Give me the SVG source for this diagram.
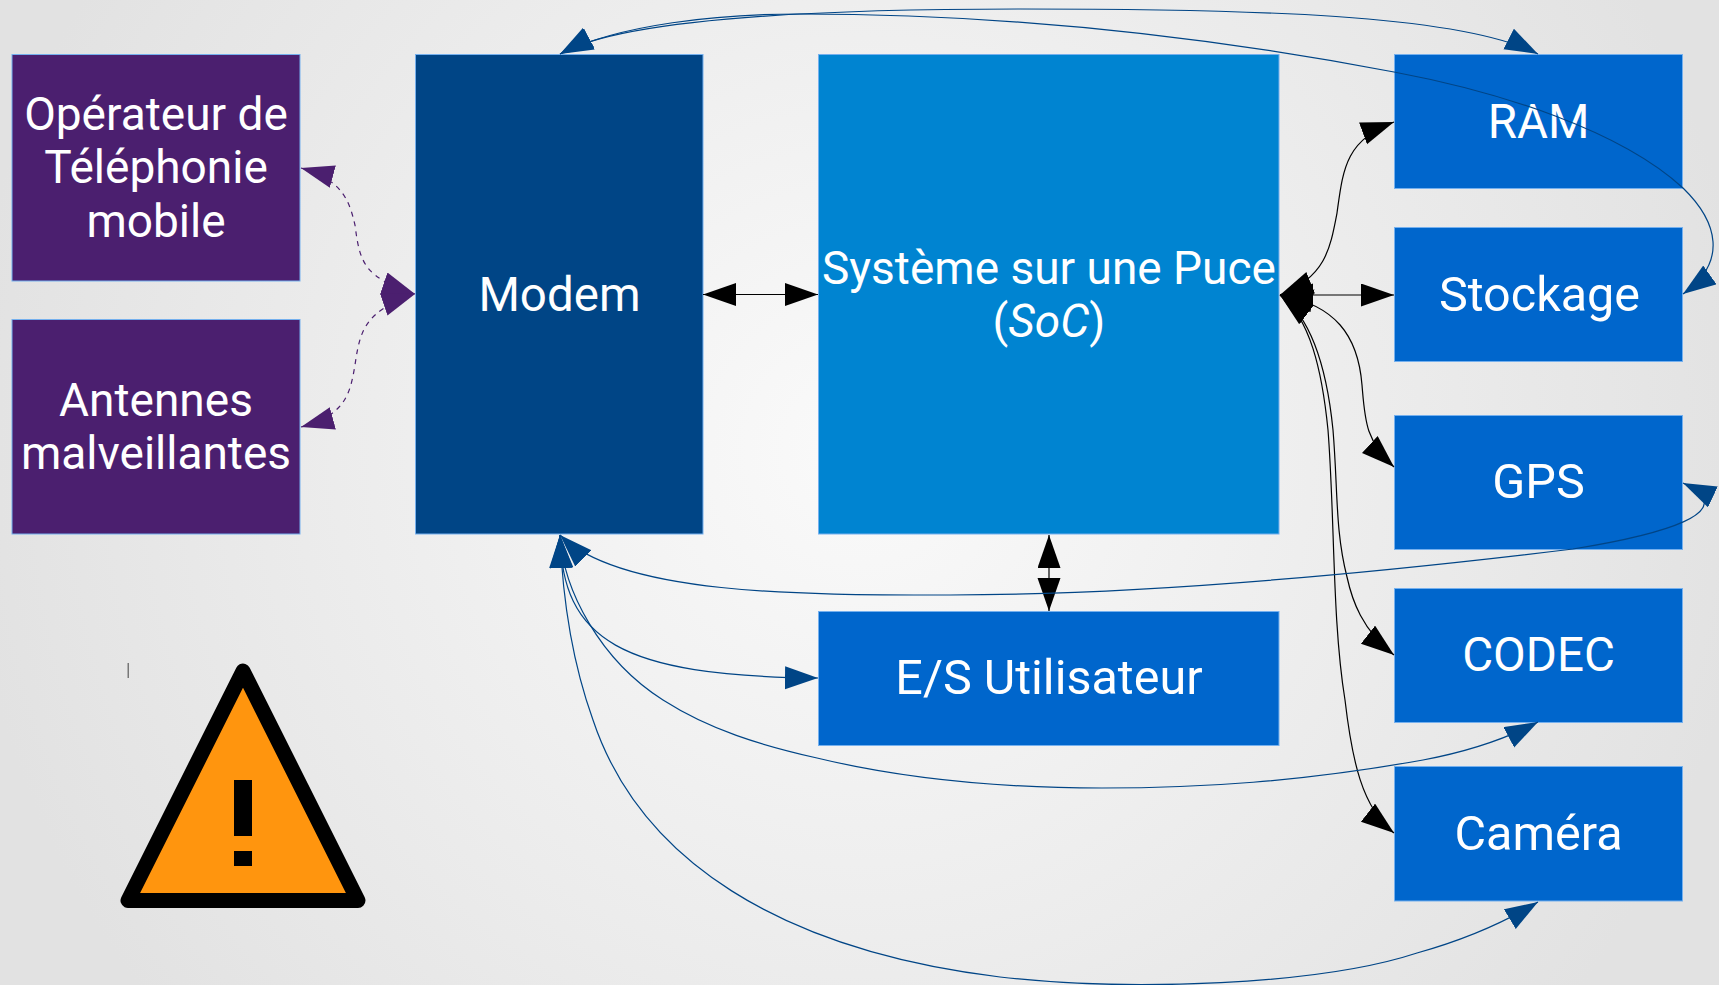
<svg xmlns="http://www.w3.org/2000/svg" width="1719" height="985" viewBox="0 0 1719 985">
<style>
.n{stroke:#75b0ee;stroke-width:1}
.t{font-family:Roboto,"Liberation Sans",sans-serif;font-size:46px;fill:#fff;text-anchor:middle}
.l{font-size:48.500px}
.m{font-size:47.500px}
.c{fill:none;stroke-width:1.200}
.k{stroke:#000}.b{stroke:#004586}.p{stroke:#4b1f6f;stroke-dasharray:5 5}
</style>
<defs>
<radialGradient id="bg" gradientUnits="userSpaceOnUse" cx="860" cy="450" r="900"><stop offset="0" stop-color="#fafafa"/><stop offset="1" stop-color="#e2e2e2"/></radialGradient>
<marker id="ak" markerUnits="userSpaceOnUse" markerWidth="36" markerHeight="26" refX="33" refY="11.500" orient="auto-start-reverse"><path d="M0,0L33,11.500L0,23z" fill="#000"/></marker>
<marker id="ab" markerUnits="userSpaceOnUse" markerWidth="36" markerHeight="26" refX="33" refY="11.500" orient="auto-start-reverse"><path d="M0,0L33,11.500L0,23z" fill="#004586"/></marker>
<marker id="ap" markerUnits="userSpaceOnUse" markerWidth="36" markerHeight="26" refX="33" refY="11.500" orient="auto-start-reverse"><path d="M0,0L33,11.500L0,23z" fill="#4b1f6f"/></marker>
</defs>
<rect width="1719" height="985" fill="url(#bg)"/>
<g id="operateur"><rect class="n" x="12" y="54.500" width="288" height="226.500" fill="#4b1f6f"/><text class="t" x="156" y="130">Opérateur de</text><text class="t" x="156" y="183">Téléphonie</text><text class="t" x="156" y="237">mobile</text></g>
<g id="antennes"><rect class="n" x="12" y="319.500" width="288" height="214.500" fill="#4b1f6f"/><text class="t" x="156" y="416">Antennes</text><text class="t" x="156" y="469">malveillantes</text></g>
<g id="modem"><rect class="n" x="415.500" y="54.500" width="287.500" height="479.500" fill="#004586"/><text class="t m" x="559.500" y="311">Modem</text></g>
<g id="soc"><rect class="n" x="818.500" y="54.500" width="460.500" height="479.500" fill="#0084d1"/><text class="t" x="1049" y="284">Système sur une Puce</text><text class="t" x="1049" y="337">(<tspan font-style="italic">SoC</tspan>)</text></g>
<g id="ram"><rect class="n" x="1394.500" y="54.500" width="288" height="134" fill="#0066cc"/><text class="t m" x="1538.500" y="138">RAM</text></g>
<g id="stockage"><rect class="n" x="1394.500" y="227.500" width="288" height="134" fill="#0066cc"/><text class="t l" x="1539.500" y="311">Stockage</text></g>
<g id="gps"><rect class="n" x="1394.500" y="415.500" width="288" height="134" fill="#0066cc"/><text class="t l" x="1538.500" y="498">GPS</text></g>
<g id="codec"><rect class="n" x="1394.500" y="588.500" width="288" height="134" fill="#0066cc"/><text class="t m" x="1538.500" y="671">CODEC</text></g>
<g id="camera"><rect class="n" x="1394.500" y="766.500" width="288" height="134.500" fill="#0066cc"/><text class="t l" x="1538.500" y="850">Caméra</text></g>
<g id="es"><rect class="n" x="818.500" y="611.500" width="460.500" height="134" fill="#0066cc"/><text class="t l" x="1049" y="694">E/S Utilisateur</text></g>
<g id="connectors">
<path class="c k" marker-start="url(#ak)" marker-end="url(#ak)" d="M1280,295C1325,277 1330,250 1337,213C1343,170 1345,140 1394,122"/>
<path class="c k" marker-start="url(#ak)" marker-end="url(#ak)" d="M1280,295L1394,295"/>
<path class="c k" marker-start="url(#ak)" marker-end="url(#ak)" d="M1280,295C1335,305 1358,335 1362,385C1365,420 1365,440 1394,467"/>
<path class="c k" marker-start="url(#ak)" marker-end="url(#ak)" d="M1280,295C1312,318 1327,370 1333,430C1338,490 1335,530 1347,577C1352,600 1362,630 1394,655"/>
<path class="c k" marker-start="url(#ak)" marker-end="url(#ak)" d="M1280,295C1310,318 1322,370 1328,430C1335,520 1332,620 1345,700C1352,760 1362,808 1394,833"/>
<path class="c k" marker-start="url(#ak)" marker-end="url(#ak)" d="M703,294.500L818,294.500"/>
<path class="c k" marker-start="url(#ak)" marker-end="url(#ak)" d="M1049,535L1049,611"/>
<path class="c b" marker-start="url(#ab)" marker-end="url(#ab)" d="M560,54C620,20 800,9 1020,9C1250,9 1460,14 1538,54"/>
<path class="c b" marker-start="url(#ab)" marker-end="url(#ab)" d="M560,54C620,24 720,14 800,14C1000,14 1200,35 1394,72C1500,92 1620,130 1683,188C1718,222 1728,262 1683,294"/>
<path class="c b" marker-start="url(#ab)" marker-end="url(#ab)" d="M560,535C620,595 800,595 950,595C1150,595 1400,570 1573,549C1660,535 1745,512 1683,483"/>
<path class="c b" marker-start="url(#ab)" marker-end="url(#ab)" d="M560,535C562,640 620,676 818,678"/>
<path class="c b" marker-start="url(#ab)" marker-end="url(#ab)" d="M560,535C563,590 600,660 663,700C710,730 760,745 817,758C900,778 1000,788 1102,788C1200,788 1300,782 1423,760C1460,753 1500,742 1538,722"/>
<path class="c b" marker-start="url(#ab)" marker-end="url(#ab)" d="M560,535C563,610 575,670 593,720C640,860 780,950 1000,977C1130,992 1320,985 1417,953C1460,941 1500,925 1538,902"/>
<path class="c p" marker-start="url(#ap)" marker-end="url(#ap)" d="M301,168C345,180 350,205 355,225C360,265 365,277 415,294"/>
<path class="c p" marker-start="url(#ap)" marker-end="url(#ap)" d="M301,427C345,415 350,395 355,365C360,330 365,311 415,294"/>
</g>
<g id="warning">
<path d="M243,671L128,900.500H358z" fill="#ff950e" stroke="#000" stroke-width="15" stroke-linejoin="round"/>
<rect x="234" y="780" width="18" height="56" fill="#000"/><rect x="234" y="851" width="18" height="15" fill="#000"/>
</g>
<rect x="127.500" y="663" width="1.500" height="15" fill="#777"/>
</svg>
